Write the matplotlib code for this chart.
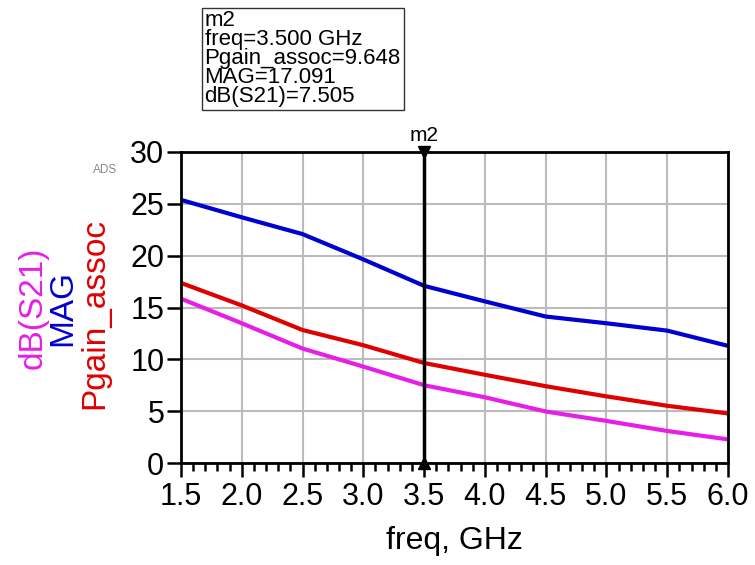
import numpy as np
import matplotlib.pyplot as plt
from matplotlib.ticker import MultipleLocator

plt.rcParams['font.family'] = ['Liberation Sans', 'DejaVu Sans']

# ========================================
# DATA
# ========================================
freq = [1.5, 2.0, 2.5, 3.0, 3.5, 4.0, 4.5, 5.0, 5.5, 6.0]
mag = [25.38, 23.70, 22.08, 19.64, 17.091, 15.59, 14.13, 13.48, 12.77, 11.30]
pgain_assoc = [17.37, 15.20, 12.83, 11.36, 9.648, 8.51, 7.41, 6.43, 5.52, 4.78]
db_s21 = [15.85, 13.48, 11.04, 9.30, 7.505, 6.34, 4.97, 4.06, 3.09, 2.28]
x_ticks = [1.5, 2.0, 2.5, 3.0, 3.5, 4.0, 4.5, 5.0, 5.5, 6.0]

marker_freq = 3.5
marker_lines = ["m2", "freq=3.500 GHz", "Pgain_assoc=9.648",
                "MAG=17.091", "dB(S21)=7.505"]

C_MAG = '#0000D0'
C_PGAIN = '#E00000'
C_S21 = '#E61EE6'

# ========================================
# PLOT
# ========================================
fig = plt.figure(figsize=(7.55, 5.65), dpi=100)
ax = fig.add_axes([0.2397, 0.1805, 0.7245, 0.5505])

ax.plot(freq, mag, color=C_MAG, lw=3)
ax.plot(freq, pgain_assoc, color=C_PGAIN, lw=3)
ax.plot(freq, db_s21, color=C_S21, lw=3)

ax.set_xlim(1.5, 6.0)
ax.set_ylim(0, 30)
ax.set_xticks(x_ticks)
ax.set_xticklabels([f"{v:.1f}" for v in x_ticks])
ax.xaxis.set_minor_locator(MultipleLocator(0.1))
ax.yaxis.set_major_locator(MultipleLocator(5))

ax.grid(True, which='major', color='#BBBBBB', lw=1.5)
ax.set_axisbelow(True)
for s in ax.spines.values():
    s.set_linewidth(2)

ax.tick_params(axis='both', which='major', direction='out', length=10, width=1.8,
               labelsize=22)
ax.tick_params(axis='x', which='minor', direction='out', length=6, width=1.8)
ax.tick_params(axis='x', which='major', pad=4)
ax.tick_params(axis='y', which='major', pad=2)

ax.set_xlabel("freq, GHz", fontsize=23, labelpad=10)

# stacked coloured y labels
y_mid = 0.1805 + 0.5505 / 2
fig.text(0.044, y_mid, "dB(S21)", color=C_S21, fontsize=24, rotation=90,
         ha='center', va='center')
fig.text(0.083, y_mid, "MAG", color=C_MAG, fontsize=24, rotation=90,
         ha='center', va='center')
fig.text(0.126, y_mid - 0.01, "Pgain_assoc", color=C_PGAIN, fontsize=24, rotation=90,
         ha='center', va='center')

fig.text(0.139, 0.699, "ADS", color='#888888', fontsize=8.5, ha='center', va='center')

# marker m2
ax.axvline(marker_freq, color='black', lw=2.5, zorder=4)
ax.plot([marker_freq], [30], marker='v', color='black', ms=9, clip_on=False, zorder=5)
ax.plot([marker_freq], [0], marker='^', color='black', ms=9, clip_on=False, zorder=5)
ax.text(marker_freq, 30.7, "m2", fontsize=15, ha='center', va='bottom')

fig.text(0.271, 0.982, "\n".join(marker_lines), fontsize=16, ha='left', va='top',
         linespacing=0.88,
         bbox=dict(boxstyle='square,pad=0.12', fc='white', ec='#333333', lw=1))

fig.savefig("out.png", dpi=100)
